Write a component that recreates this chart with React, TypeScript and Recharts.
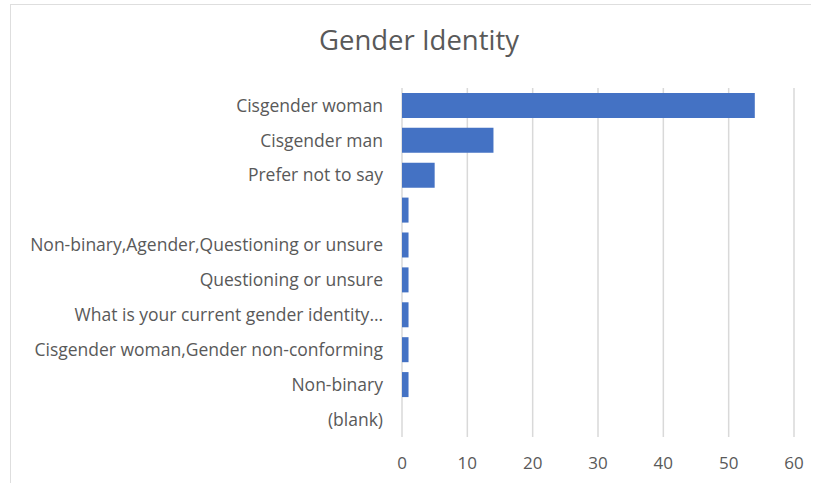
import { BarChart, Bar, XAxis, YAxis, CartesianGrid } from "recharts";

const categories = [
  "Cisgender woman",
  "Cisgender man",
  "Prefer not to say",
  "",
  "Non-binary,Agender,Questioning or unsure",
  "Questioning or unsure",
  "What is your current gender identity…",
  "Cisgender woman,Gender non-conforming",
  "Non-binary",
  "(blank)",
];

const counts = [54, 14, 5, 1, 1, 1, 1, 1, 1, 0];

const xTicks = [0, 10, 20, 30, 40, 50, 60];

const data = categories.map((name, i) => ({ name, count: counts[i] }));

const font = "'Open Sans', Lato, sans-serif";

export default function App() {
  return (
    <div
      style={{
        position: "absolute",
        left: 0,
        top: 0,
        width: 817,
        height: 483,
        background: "#fff",
        fontFamily: font,
      }}
    >
      {/* frame edges */}
      <div
        style={{
          position: "absolute",
          left: 10,
          top: 4,
          width: 800,
          height: 479,
          borderTop: "1.5px solid #dedede",
          borderLeft: "1.5px solid #dedede",
        }}
      />
      <div
        style={{
          position: "absolute",
          left: 0,
          top: 21,
          width: 838,
          textAlign: "center",
          fontSize: 27.5,
          color: "#595959",
        }}
      >
        Gender Identity
      </div>
      <BarChart
        width={817}
        height={483}
        data={data}
        layout="vertical"
        margin={{ top: 88, right: 23, bottom: 16, left: 0 }}
        barCategoryGap="14%"
        style={{ position: "absolute", left: 0, top: 0 }}
      >
        <CartesianGrid
          horizontal={false}
          stroke="#d9d9d9"
          strokeWidth={1.5}
        />
        <XAxis
          type="number"
          domain={[0, 60]}
          ticks={xTicks}
          axisLine={false}
          tickLine={false}
          tickSize={0}
          tickMargin={20}
          tick={{ fill: "#595959", fontSize: 17, fontFamily: font }}
        />
        <YAxis
          type="category"
          dataKey="name"
          width={402}
          axisLine={false}
          tickLine={false}
          tickSize={0}
          tickMargin={19}
          interval={0}
          tick={{ fill: "#595959", fontSize: 17.5, fontFamily: font }}
        />
        <Bar dataKey="count" fill="#4472C4" isAnimationActive={false} />
      </BarChart>
    </div>
  );
}
